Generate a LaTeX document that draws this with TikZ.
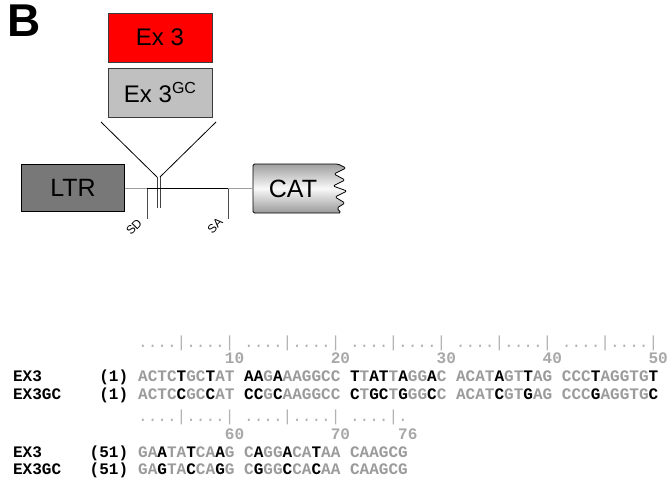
\documentclass[tikz,border=0pt]{standalone}
\usepackage{fontspec}
\setmainfont{Liberation Sans}
\newfontfamily\seqfont{Liberation Mono}
\definecolor{seqgray}{RGB}{155,155,155}
\definecolor{rulegray}{RGB}{178,178,178}
\definecolor{numgray}{RGB}{168,168,168}
\definecolor{ltrgray}{RGB}{120,120,120}
\definecolor{gcgray}{RGB}{192,192,192}
\definecolor{edgegray}{RGB}{60,60,60}
\newcommand\bk[1]{\textcolor{black}{#1}}
\begin{document}
\begin{tikzpicture}[x=1pt,y=-1pt,
  exbox/.style={draw=edgegray, line width=0.8pt, minimum width=104pt, minimum height=49pt, inner sep=0pt, font=\fontsize{24}{28}\selectfont},
  bigbox/.style={draw=black, line width=0.8pt, inner sep=0pt, font=\fontsize{25}{29}\selectfont},
  seqtxt/.style={anchor=base west, inner sep=0pt, font=\seqfont\bfseries\fontsize{16.05}{18}\selectfont},
  lbltxt/.style={seqtxt, text=black},
  rulertxt/.style={anchor=base west, inner sep=0pt, text=rulegray, font=\seqfont\fontsize{16.05}{18}\selectfont},
  numtxt/.style={seqtxt, text=numgray},
  sitetxt/.style={inner sep=0pt, rotate=45, font=\fontsize{12}{13}\selectfont},
  wire/.style={line width=0.8pt, black},
  graywire/.style={line width=1.3pt, gray!75},
  sitetick/.style={line width=1pt, black!70}
]
\useasboundingbox (0,0) rectangle (668,481);

% panel letter
\node[inner sep=0pt, font=\fontsize{46}{48}\bfseries\selectfont] (B) at (24,21) {B};

% exon boxes
\node[exbox, fill=red] (ex3) at (160,37.5) {Ex 3};
\node[exbox, fill=gcgray] (ex3gc) at (160,92.5) {\raisebox{0pt}{Ex 3}\raisebox{8.5pt}{\fontsize{16}{18}\selectfont GC}};

% insertion V
\coordinate (vl) at (101,122);
\coordinate (vr) at (216,122);
\coordinate (jl) at (157,177);
\coordinate (jr) at (160,177);
\coordinate (dl) at (157,208);
\coordinate (dr) at (160,208);
\draw[wire] (vl) -- (jl);
\draw[wire] (vr) -- (jr);
\draw[line width=1pt, black!75] (jl) -- (dl);
\draw[line width=1pt, black!75] (jr) -- (dr);

% LTR
\node[bigbox, fill=ltrgray, minimum width=102.6pt, minimum height=47.4pt] (ltr) at (73,188) {LTR};

% CAT torn box
\coordinate (catw) at (253,188);
\path[top color=gray!75, bottom color=gray!80, middle color=gray!5, rounded corners=1.5pt]
  (253,164) -- (338,164) -- (346,168) -- (334,174) -- (345,180) -- (333,186)
  -- (347,191) -- (335,197) -- (345,203) -- (337,208) -- (341,213) -- (253,213) -- cycle;
\draw[line width=0.8pt, black, rounded corners=1.5pt]
  (253,164) -- (338,164) -- (346,168) -- (334,174) -- (345,180) -- (333,186)
  -- (347,191) -- (335,197) -- (345,203) -- (337,208) -- (341,213) -- (253,213) -- cycle;
\node[inner sep=0pt, font=\fontsize{25}{29}\selectfont] (cat) at (293,189) {CAT};

% backbone
\coordinate (sd) at (147,188.5);
\coordinate (sa) at (228,188.5);
\coordinate (sdend) at (147,219);
\coordinate (saend) at (228,219);
\draw[graywire] (ltr.east |- sd) -- (sd);
\draw[wire] (sd) -- (sa);
\draw[graywire] (sa) -- (catw |- sa);
\draw[sitetick] (sd) -- (sdend);
\draw[sitetick] (sa) -- (saend);
\node[sitetxt] (sdl) at (134,227) {SD};
\node[sitetxt] (sal) at (215,226) {SA};

% alignment block 1
\node[rulertxt] (rul1) at (138,347) {....|....| ....|....| ....|....| ....|....| ....|....|};
\foreach \n/\c in {10/9,20/20,30/31,40/42,50/53}
  \node[numtxt] (num\n) at ({138+\c*9.63},363) {\n};
\node[lbltxt] (l1a) at (12.8,381) {EX3};
\node[lbltxt, anchor=base east] (p1a) at (128.4,381) {(1)};
\node[seqtxt, text=seqgray] (s1a) at (138,381) {ACTC\bk{T}GC\bk{T}AT \bk{AA}G\bk{A}AAGGCC \bk{T}T\bk{AT}T\bk{A}GG\bk{A}C ACAT\bk{A}GT\bk{T}AG CCC\bk{T}AGGTG\bk{T}};
\node[lbltxt] (l1b) at (12.8,399) {EX3GC};
\node[lbltxt, anchor=base east] (p1b) at (128.4,399) {(1)};
\node[seqtxt, text=seqgray] (s1b) at (138,399) {ACTC\bk{C}GC\bk{C}AT \bk{CC}G\bk{C}AAGGCC \bk{C}T\bk{GC}T\bk{G}GG\bk{C}C ACAT\bk{C}GT\bk{G}AG CCC\bk{G}AGGTG\bk{C}};

% alignment block 2
\node[rulertxt] (rul2) at (138,421) {....|....| ....|....| ....|.};
\foreach \n/\c in {60/9,70/20,76/27}
  \node[numtxt] (num\n) at ({138+\c*9.63},439) {\n};
\node[lbltxt] (l2a) at (12.8,457) {EX3};
\node[lbltxt, anchor=base east] (p2a) at (128.4,457) {(51)};
\node[seqtxt, text=seqgray] (s2a) at (138,457) {GA\bk{A}TA\bk{T}CA\bk{A}G C\bk{A}GG\bk{A}CA\bk{T}AA CAAGCG};
\node[lbltxt] (l2b) at (12.8,474) {EX3GC};
\node[lbltxt, anchor=base east] (p2b) at (128.4,474) {(51)};
\node[seqtxt, text=seqgray] (s2b) at (138,474) {GA\bk{G}TA\bk{C}CA\bk{G}G C\bk{G}GG\bk{C}CA\bk{C}AA CAAGCG};
\end{tikzpicture}
\end{document}
